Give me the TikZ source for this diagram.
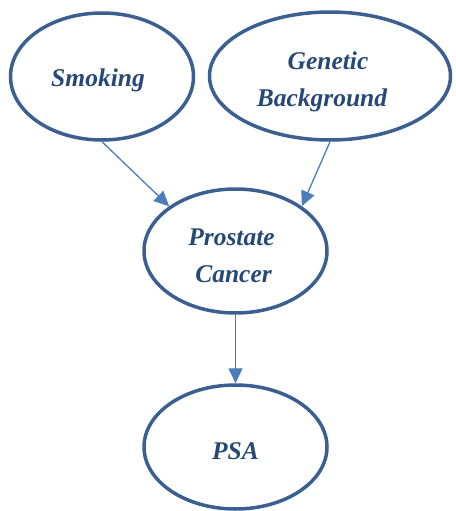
\documentclass[tikz,border=0pt]{standalone}
\usepackage{fontspec}
\setmainfont{Liberation Serif}
\usetikzlibrary{arrows.meta,shapes.geometric}
\definecolor{rim}{RGB}{60,95,145}
\definecolor{ink}{RGB}{38,72,118}
\definecolor{arr}{RGB}{74,126,187}
\tikzset{
  var/.style={ellipse, draw=rim, line width=3.5pt, inner sep=0pt},
  lbl/.style={text=ink, inner sep=0pt, anchor=base,
    font=\fontsize{25.5}{36}\selectfont\bfseries\itshape},
  link/.style={draw=arr, line width=1.3pt, -{Triangle[length=15pt,width=14pt]}}
}
\begin{document}
\begin{tikzpicture}[x=1pt,y=-1pt]
\useasboundingbox (0,0) rectangle (455,511);
\node[var, minimum width=183pt, minimum height=127pt] (smk) at (102,76.5) {};
\node[var, minimum width=241pt, minimum height=128pt] (gen) at (330,76) {};
\node[var, minimum width=183pt, minimum height=124pt] (pc) at (235.5,251) {};
\node[var, minimum width=183pt, minimum height=124pt] (psa) at (235.5,447) {};
\node[lbl] (smkt) at (98,86.5) {Smoking};
\node[lbl] (gent1) at (328,70) {Genetic};
\node[lbl] (gent2) at (322,106) {Background};
\node[lbl] (pct1) at (231.5,245) {Prostate};
\node[lbl] (pct2) at (233.5,282) {Cancer};
\node[lbl] (psat) at (235.5,459) {PSA};
\draw[link] (smk.south) -- (pc.146);
\draw[link] (gen.south) -- (pc.34);
\draw[link] (pc.south) -- (psa.north);
\end{tikzpicture}
\end{document}
